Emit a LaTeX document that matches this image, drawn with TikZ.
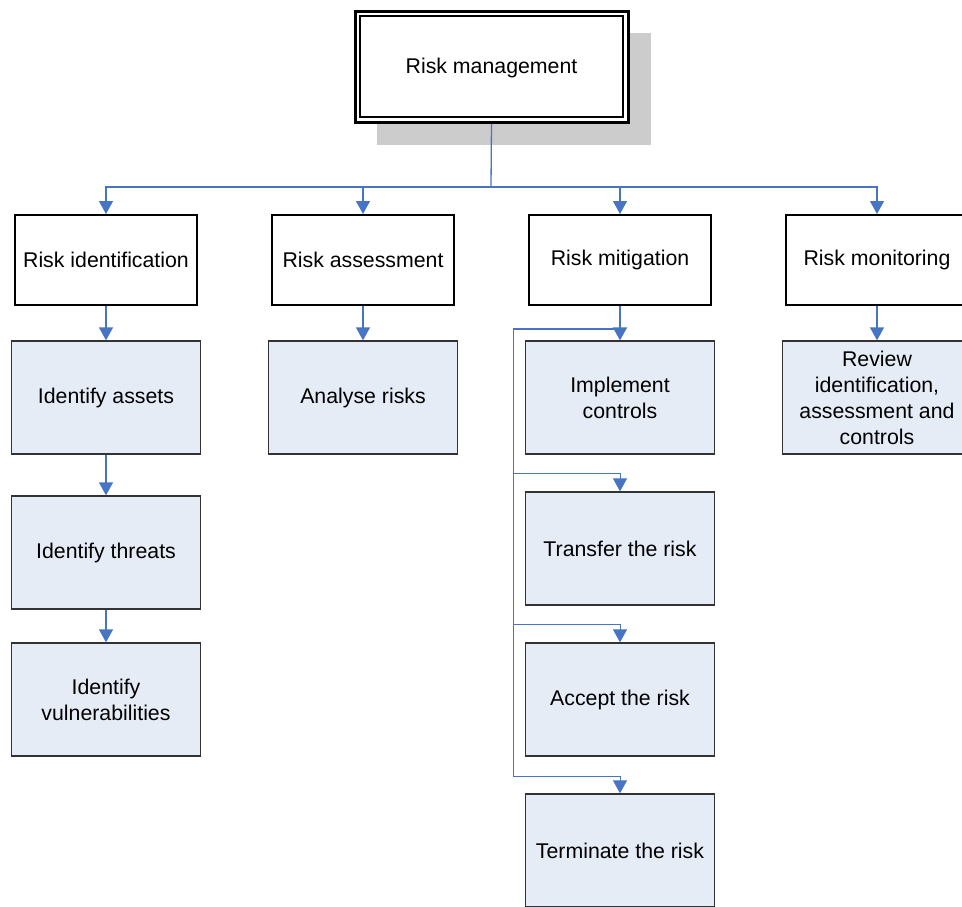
\documentclass[tikz,border=0pt]{standalone}
\usepackage{fontspec}
\setmainfont{Liberation Sans}
\usetikzlibrary{arrows.meta,calc}
\definecolor{linkblue}{RGB}{72,116,196}
\definecolor{taskfill}{RGB}{230,236,246}
\definecolor{shadowgray}{RGB}{204,204,204}
\begin{document}
\begin{tikzpicture}[x=1pt,y=-1pt,
  every node/.style={font=\fontsize{21.3}{26}\selectfont, align=center, inner sep=0pt},
  stagebox/.style={draw=black, line width=2pt, fill=white, minimum width=182pt, minimum height=90pt},
  taskbox/.style={draw=black!80, line width=1.3pt, fill=taskfill, minimum width=189pt, minimum height=113pt},
  link/.style={draw=linkblue, line width=1.3pt},
  arr/.style={link, -{Triangle[width=14pt,length=13pt]}}]
\useasboundingbox (0,0) rectangle (962,906);

% root with drop shadow and double frame
\fill[shadowgray] (377,33) rectangle (651,145);
\node[draw=black, line width=3pt, fill=white, minimum width=273pt, minimum height=111pt] (root) at (491.5,66.5) {};
\draw[line width=2pt] (360,16) rectangle (623,117);
\node at ([yshift=-1.5pt]root.center) {Risk management};

% second level
\node[stagebox] (rid)  at (106,260) {\raisebox{-1pt}{Risk identification}};
\node[stagebox] (ras)  at (363,260) {\raisebox{-1pt}{Risk assessment}};
\node[stagebox] (rmit) at (620,260) {\raisebox{-1pt}{Risk mitigation}};
\node[stagebox] (rmon) at (877,260) {\raisebox{-1pt}{Risk monitoring}};

% third level
\node[taskbox] (assets) at (106,397.5) {Identify assets};
\node[taskbox] (threats) at (106,552.5) {Identify threats};
\node[taskbox] (vuln) at (106,699.5) {Identify\\vulnerabilities};
\node[taskbox] (analyse) at (363,397.5) {Analyse risks};
\node[taskbox] (impl) at (620,397.5) {Implement\\controls};
\node[taskbox] (transfer) at (620,548.5) {Transfer the risk};
\node[taskbox] (accept) at (620,699.5) {Accept the risk};
\node[taskbox] (term) at (620,850.5) {Terminate the risk};
\node[taskbox] (review) at (877,397.5) {Review\\identification,\\assessment and\\controls};

% root to stages
\coordinate (bus) at (491,187);
\draw[link] (root.south) -- (bus);
\foreach \s in {rid,ras,rmit,rmon}
  \draw[arr] (bus) -| (\s.north);

% stage to task chains
\draw[arr] (rid.south) -- (assets.north);
\draw[arr] (assets.south) -- (threats.north);
\draw[arr] (threats.south) -- (vuln.north);
\draw[arr] (ras.south) -- (analyse.north);
\draw[arr] (rmon.south) -- (review.north);

% mitigation options fed from a side rail
\coordinate (rail) at (513,329);
\draw[arr, line width=2pt] (rmit.south) -- (impl.north);
\draw[link] (rail -| impl.north) -- (rail);
\draw[arr, line width=1pt] (rail) |- ([yshift=18pt]transfer.north) -- (transfer.north);
\draw[arr, line width=1pt] (rail) |- ([yshift=18pt]accept.north) -- (accept.north);
\draw[arr, line width=1pt] (rail) |- ([yshift=17pt]term.north) -- (term.north);
\end{tikzpicture}
\end{document}
